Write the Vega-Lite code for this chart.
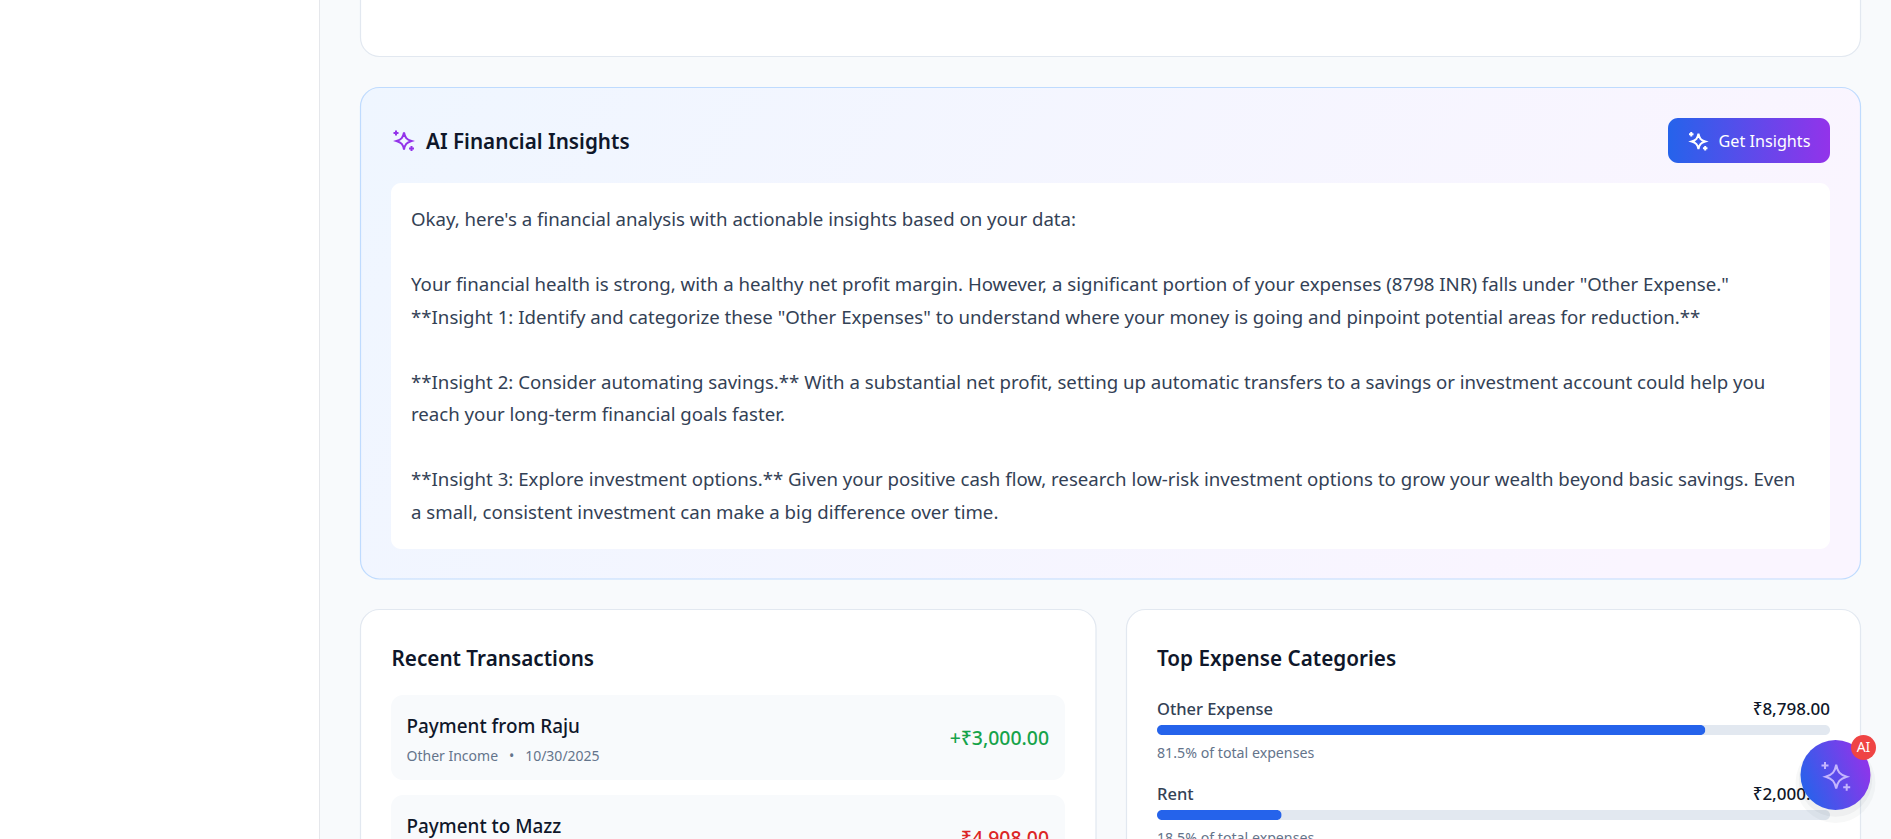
{
  "$schema": "https://vega.github.io/schema/vega-lite/v6.json",
  "width": 1891,
  "height": 839,
  "autosize": {"type": "none"},
  "padding": 0,
  "background": "#f8fafc",
  "config": {
    "view": {"stroke": null},
    "font": "Noto Sans",
    "text": {"font": "Noto Sans", "baseline": "middle"}
  },
  "resolve": {"scale": {"x": "independent", "y": "independent"}},
  "layer": [
    {
      "data": {"values": [{"page": "dashboard"}]},
      "layer": [
        {
          "mark": {"type": "rect", "fill": "#ffffff", "stroke": "#e5e7eb", "strokeWidth": 1},
          "encoding": {
            "x": {"datum": -2, "axis": null, "scale": {"domain": [0, 1891], "range": [0, 1891], "nice": false}},
            "x2": {"datum": 319.5},
            "y": {"datum": -2, "axis": null, "scale": {"domain": [0, 839], "range": [0, 839], "nice": false}},
            "y2": {"datum": 841}
          }
        },
        {
          "mark": {"type": "rect", "fill": "#ffffff", "stroke": "#e2e8f0", "strokeWidth": 1.2, "cornerRadius": 19},
          "encoding": {"x": {"datum": 360.5, "axis": null}, "x2": {"datum": 1860.5}, "y": {"datum": -100, "axis": null}, "y2": {"datum": 56.5}}
        },
        {
          "mark": {
            "type": "rect",
            "stroke": "#bfdbfe",
            "strokeWidth": 1.2,
            "cornerRadius": 19,
            "fill": {"gradient": "linear", "x1": 0, "y1": 0, "x2": 1, "y2": 0.2, "stops": [{"offset": 0, "color": "#eff6ff"}, {"offset": 1, "color": "#faf5ff"}]}
          },
          "encoding": {"x": {"datum": 360.5, "axis": null}, "x2": {"datum": 1860.5}, "y": {"datum": 87.5, "axis": null}, "y2": {"datum": 579}}
        },
        {
          "mark": {"type": "rect", "fill": "#ffffff", "cornerRadius": 10},
          "encoding": {"x": {"datum": 391, "axis": null}, "x2": {"datum": 1830}, "y": {"datum": 183, "axis": null}, "y2": {"datum": 549}}
        },
        {
          "mark": {
            "type": "rect",
            "cornerRadius": 10,
            "fill": {"gradient": "linear", "x1": 0, "y1": 0, "x2": 1, "y2": 0, "stops": [{"offset": 0, "color": "#2563eb"}, {"offset": 1, "color": "#9333ea"}]}
          },
          "encoding": {"x": {"datum": 1668, "axis": null}, "x2": {"datum": 1830}, "y": {"datum": 118, "axis": null}, "y2": {"datum": 163}}
        },
        {
          "mark": {"type": "rect", "fill": "#ffffff", "stroke": "#e2e8f0", "strokeWidth": 1.2, "cornerRadius": 19},
          "encoding": {"x": {"datum": 360.5, "axis": null}, "x2": {"datum": 1096}, "y": {"datum": 609.5, "axis": null}, "y2": {"datum": 950}}
        },
        {
          "mark": {"type": "rect", "fill": "#ffffff", "stroke": "#e2e8f0", "strokeWidth": 1.2, "cornerRadius": 19},
          "encoding": {"x": {"datum": 1126.5, "axis": null}, "x2": {"datum": 1860.5}, "y": {"datum": 609.5, "axis": null}, "y2": {"datum": 950}}
        },
        {
          "mark": {"type": "point", "filled": false, "opacity": 1, "strokeWidth": 2, "stroke": "#9333ea", "size": 400, "shape": "M0.05 -0.8C0.15 -0.3 0.3 -0.1 0.8 0.05C0.3 0.2 0.15 0.4 0.05 0.9C-0.05 0.4 -0.2 0.2 -0.7 0.05C-0.2 -0.1 -0.05 -0.3 0.05 -0.8ZM-0.75 -1V-0.5M-1 -0.75H-0.5M0.8 0.55V1.05M0.55 0.8H1.05"},
          "encoding": {"x": {"datum": 403.5, "axis": null}, "y": {"datum": 140.5, "axis": null}}
        },
        {
          "mark": {"type": "point", "filled": false, "opacity": 1, "strokeWidth": 2, "stroke": "#ffffff", "size": 324, "shape": "M0.05 -0.8C0.15 -0.3 0.3 -0.1 0.8 0.05C0.3 0.2 0.15 0.4 0.05 0.9C-0.05 0.4 -0.2 0.2 -0.7 0.05C-0.2 -0.1 -0.05 -0.3 0.05 -0.8ZM-0.75 -1V-0.5M-1 -0.75H-0.5M0.8 0.55V1.05M0.55 0.8H1.05"},
          "encoding": {"x": {"datum": 1698, "axis": null}, "y": {"datum": 141, "axis": null}}
        },
        {
          "mark": {"type": "text", "align": "left", "fontSize": 20.7, "fontWeight": 600, "fill": "#0f172a"},
          "encoding": {"x": {"datum": 426, "axis": null}, "y": {"datum": 143, "axis": null}, "text": {"value": "AI Financial Insights"}}
        },
        {
          "mark": {"type": "text", "align": "left", "fontSize": 16.2, "fill": "#ffffff"},
          "encoding": {"x": {"datum": 1718.5, "axis": null}, "y": {"datum": 142, "axis": null}, "text": {"value": "Get Insights"}}
        },
        {
          "mark": {"type": "text", "align": "left", "fontSize": 20.7, "fontWeight": 600, "fill": "#0f172a"},
          "encoding": {"x": {"datum": 391.5, "axis": null}, "y": {"datum": 660, "axis": null}, "text": {"value": "Recent Transactions"}}
        },
        {
          "mark": {"type": "text", "align": "left", "fontSize": 20.7, "fontWeight": 600, "fill": "#0f172a"},
          "encoding": {"x": {"datum": 1157, "axis": null}, "y": {"datum": 660, "axis": null}, "text": {"value": "Top Expense Categories"}}
        }
      ]
    },
    {
      "data": {
        "values": [
          {"line": 0, "text": "Okay, here's a financial analysis with actionable insights based on your data:"},
          {"line": 2, "text": "Your financial health is strong, with a healthy net profit margin. However, a significant portion of your expenses (8798 INR) falls under \"Other Expense.\""},
          {"line": 3, "text": "**Insight 1: Identify and categorize these \"Other Expenses\" to understand where your money is going and pinpoint potential areas for reduction.**"},
          {"line": 5, "text": "**Insight 2: Consider automating savings.** With a substantial net profit, setting up automatic transfers to a savings or investment account could help you"},
          {"line": 6, "text": "reach your long-term financial goals faster."},
          {"line": 8, "text": "**Insight 3: Explore investment options.** Given your positive cash flow, research low-risk investment options to grow your wealth beyond basic savings. Even"},
          {"line": 9, "text": "a small, consistent investment can make a big difference over time."}
        ]
      },
      "mark": {"type": "text", "align": "left", "fontSize": 18.65, "fill": "#334155"},
      "encoding": {
        "x": {"datum": 411, "axis": null, "scale": {"domain": [0, 1891], "range": [0, 1891], "nice": false}},
        "y": {"field": "line", "type": "quantitative", "axis": null, "scale": {"domain": [0, 9], "range": [220, 512.5], "nice": false}},
        "text": {"field": "text"}
      }
    },
    {
      "data": {
        "values": [
          {"payee": "Payment from Raju", "detail": "Other Income\u00a0\u00a0\u00a0•\u00a0\u00a0\u00a010/30/2025", "amount": "+₹3,000.00", "flow": "income"},
          {"payee": "Payment to Mazz", "detail": "Other Expense\u00a0\u00a0\u00a0•\u00a0\u00a0\u00a010/29/2025", "amount": "-₹4,908.00", "flow": "expense"}
        ]
      },
      "encoding": {
        "y": {"field": "payee", "type": "nominal", "axis": null, "sort": null, "scale": {"type": "point", "range": [737.5, 837.5], "padding": 0}}
      },
      "layer": [
        {
          "mark": {"type": "bar", "height": 85, "cornerRadius": 12, "fill": "#f8fafc"},
          "encoding": {
            "x": {"datum": 0, "axis": null, "scale": {"domain": [0, 1], "range": [391, 1065], "nice": false}},
            "x2": {"datum": 1}
          }
        },
        {
          "mark": {"type": "text", "align": "left", "dx": 15.5, "dy": -11, "fontSize": 18.9, "fontWeight": 500, "fill": "#0f172a"},
          "encoding": {"x": {"datum": 0, "axis": null}, "text": {"field": "payee"}}
        },
        {
          "mark": {"type": "text", "align": "left", "dx": 15.5, "dy": 19, "fontSize": 14, "fill": "#64748b"},
          "encoding": {"x": {"datum": 0, "axis": null}, "text": {"field": "detail"}}
        },
        {
          "mark": {"type": "text", "align": "right", "dx": -16, "dy": 1.5, "fontSize": 19.4, "fontWeight": 500},
          "encoding": {
            "x": {"datum": 1, "axis": null},
            "text": {"field": "amount"},
            "color": {"field": "flow", "type": "nominal", "legend": null, "scale": {"domain": ["income", "expense"], "range": ["#16a34a", "#dc2626"]}}
          }
        }
      ]
    },
    {
      "data": {
        "values": [
          {"category": "Other Expense", "amount": 8798, "total": 10798, "amount_label": "₹8,798.00", "share": "81.5% of total expenses"},
          {"category": "Rent", "amount": 2000, "total": 10798, "amount_label": "₹2,000.00", "share": "18.5% of total expenses"}
        ]
      },
      "encoding": {
        "y": {"field": "category", "type": "nominal", "axis": null, "sort": null, "scale": {"type": "point", "range": [730, 815], "padding": 0}}
      },
      "layer": [
        {
          "mark": {"type": "bar", "height": 10, "cornerRadius": 5, "fill": "#e2e8f0"},
          "encoding": {
            "x": {"field": "total", "type": "quantitative", "axis": null, "scale": {"domain": [0, 10798], "range": [1157, 1830], "nice": false}}
          }
        },
        {
          "mark": {"type": "bar", "height": 10, "cornerRadius": 5, "fill": "#2563eb"},
          "encoding": {"x": {"field": "amount", "type": "quantitative", "axis": null}}
        },
        {
          "mark": {"type": "text", "align": "left", "dy": -20.5, "fontSize": 16.5, "fontWeight": 500, "fill": "#334155"},
          "encoding": {"x": {"datum": 0, "axis": null}, "text": {"field": "category"}}
        },
        {
          "mark": {"type": "text", "align": "right", "dy": -20.5, "fontSize": 17, "fontWeight": 500, "fill": "#0f172a"},
          "encoding": {"x": {"field": "total", "type": "quantitative", "axis": null}, "text": {"field": "amount_label"}}
        },
        {
          "mark": {"type": "text", "align": "left", "dy": 24, "fontSize": 14.2, "fill": "#64748b"},
          "encoding": {"x": {"datum": 0, "axis": null}, "text": {"field": "share"}}
        }
      ]
    },
    {
      "data": {"values": [{"widget": "assistant"}]},
      "layer": [
        {
          "mark": {"type": "point", "filled": true, "size": 6400, "fill": "#0f172a", "opacity": 0.03},
          "encoding": {
            "x": {"datum": 1835.5, "axis": null, "scale": {"domain": [0, 1891], "range": [0, 1891], "nice": false}},
            "y": {"datum": 783, "axis": null, "scale": {"domain": [0, 839], "range": [0, 839], "nice": false}}
          }
        },
        {
          "mark": {"type": "point", "filled": true, "size": 5400, "fill": "#0f172a", "opacity": 0.04},
          "encoding": {"x": {"datum": 1835.5, "axis": null}, "y": {"datum": 780, "axis": null}}
        },
        {
          "mark": {
            "type": "point",
            "filled": true,
            "opacity": 1,
            "size": 4900,
            "fill": {"gradient": "linear", "x1": 0, "y1": 0.7, "x2": 1, "y2": 0.3, "stops": [{"offset": 0, "color": "#2563eb"}, {"offset": 1, "color": "#9333ea"}]}
          },
          "encoding": {"x": {"datum": 1835.5, "axis": null}, "y": {"datum": 775, "axis": null}}
        },
        {
          "mark": {"type": "point", "filled": false, "opacity": 1, "strokeWidth": 2, "stroke": "#c4b5fd", "size": 784, "shape": "M0.05 -0.8C0.15 -0.3 0.3 -0.1 0.8 0.05C0.3 0.2 0.15 0.4 0.05 0.9C-0.05 0.4 -0.2 0.2 -0.7 0.05C-0.2 -0.1 -0.05 -0.3 0.05 -0.8ZM-0.75 -1V-0.5M-1 -0.75H-0.5M0.8 0.55V1.05M0.55 0.8H1.05"},
          "encoding": {"x": {"datum": 1835.5, "axis": null}, "y": {"datum": 776, "axis": null}}
        },
        {
          "mark": {"type": "point", "filled": true, "opacity": 1, "size": 625, "fill": "#ef4444"},
          "encoding": {"x": {"datum": 1863.5, "axis": null}, "y": {"datum": 747.5, "axis": null}}
        },
        {
          "mark": {"type": "text", "align": "center", "fontSize": 14, "fill": "#ffffff"},
          "encoding": {"x": {"datum": 1863.5, "axis": null}, "y": {"datum": 747.5, "axis": null}, "text": {"value": "AI"}}
        }
      ]
    }
  ]
}
